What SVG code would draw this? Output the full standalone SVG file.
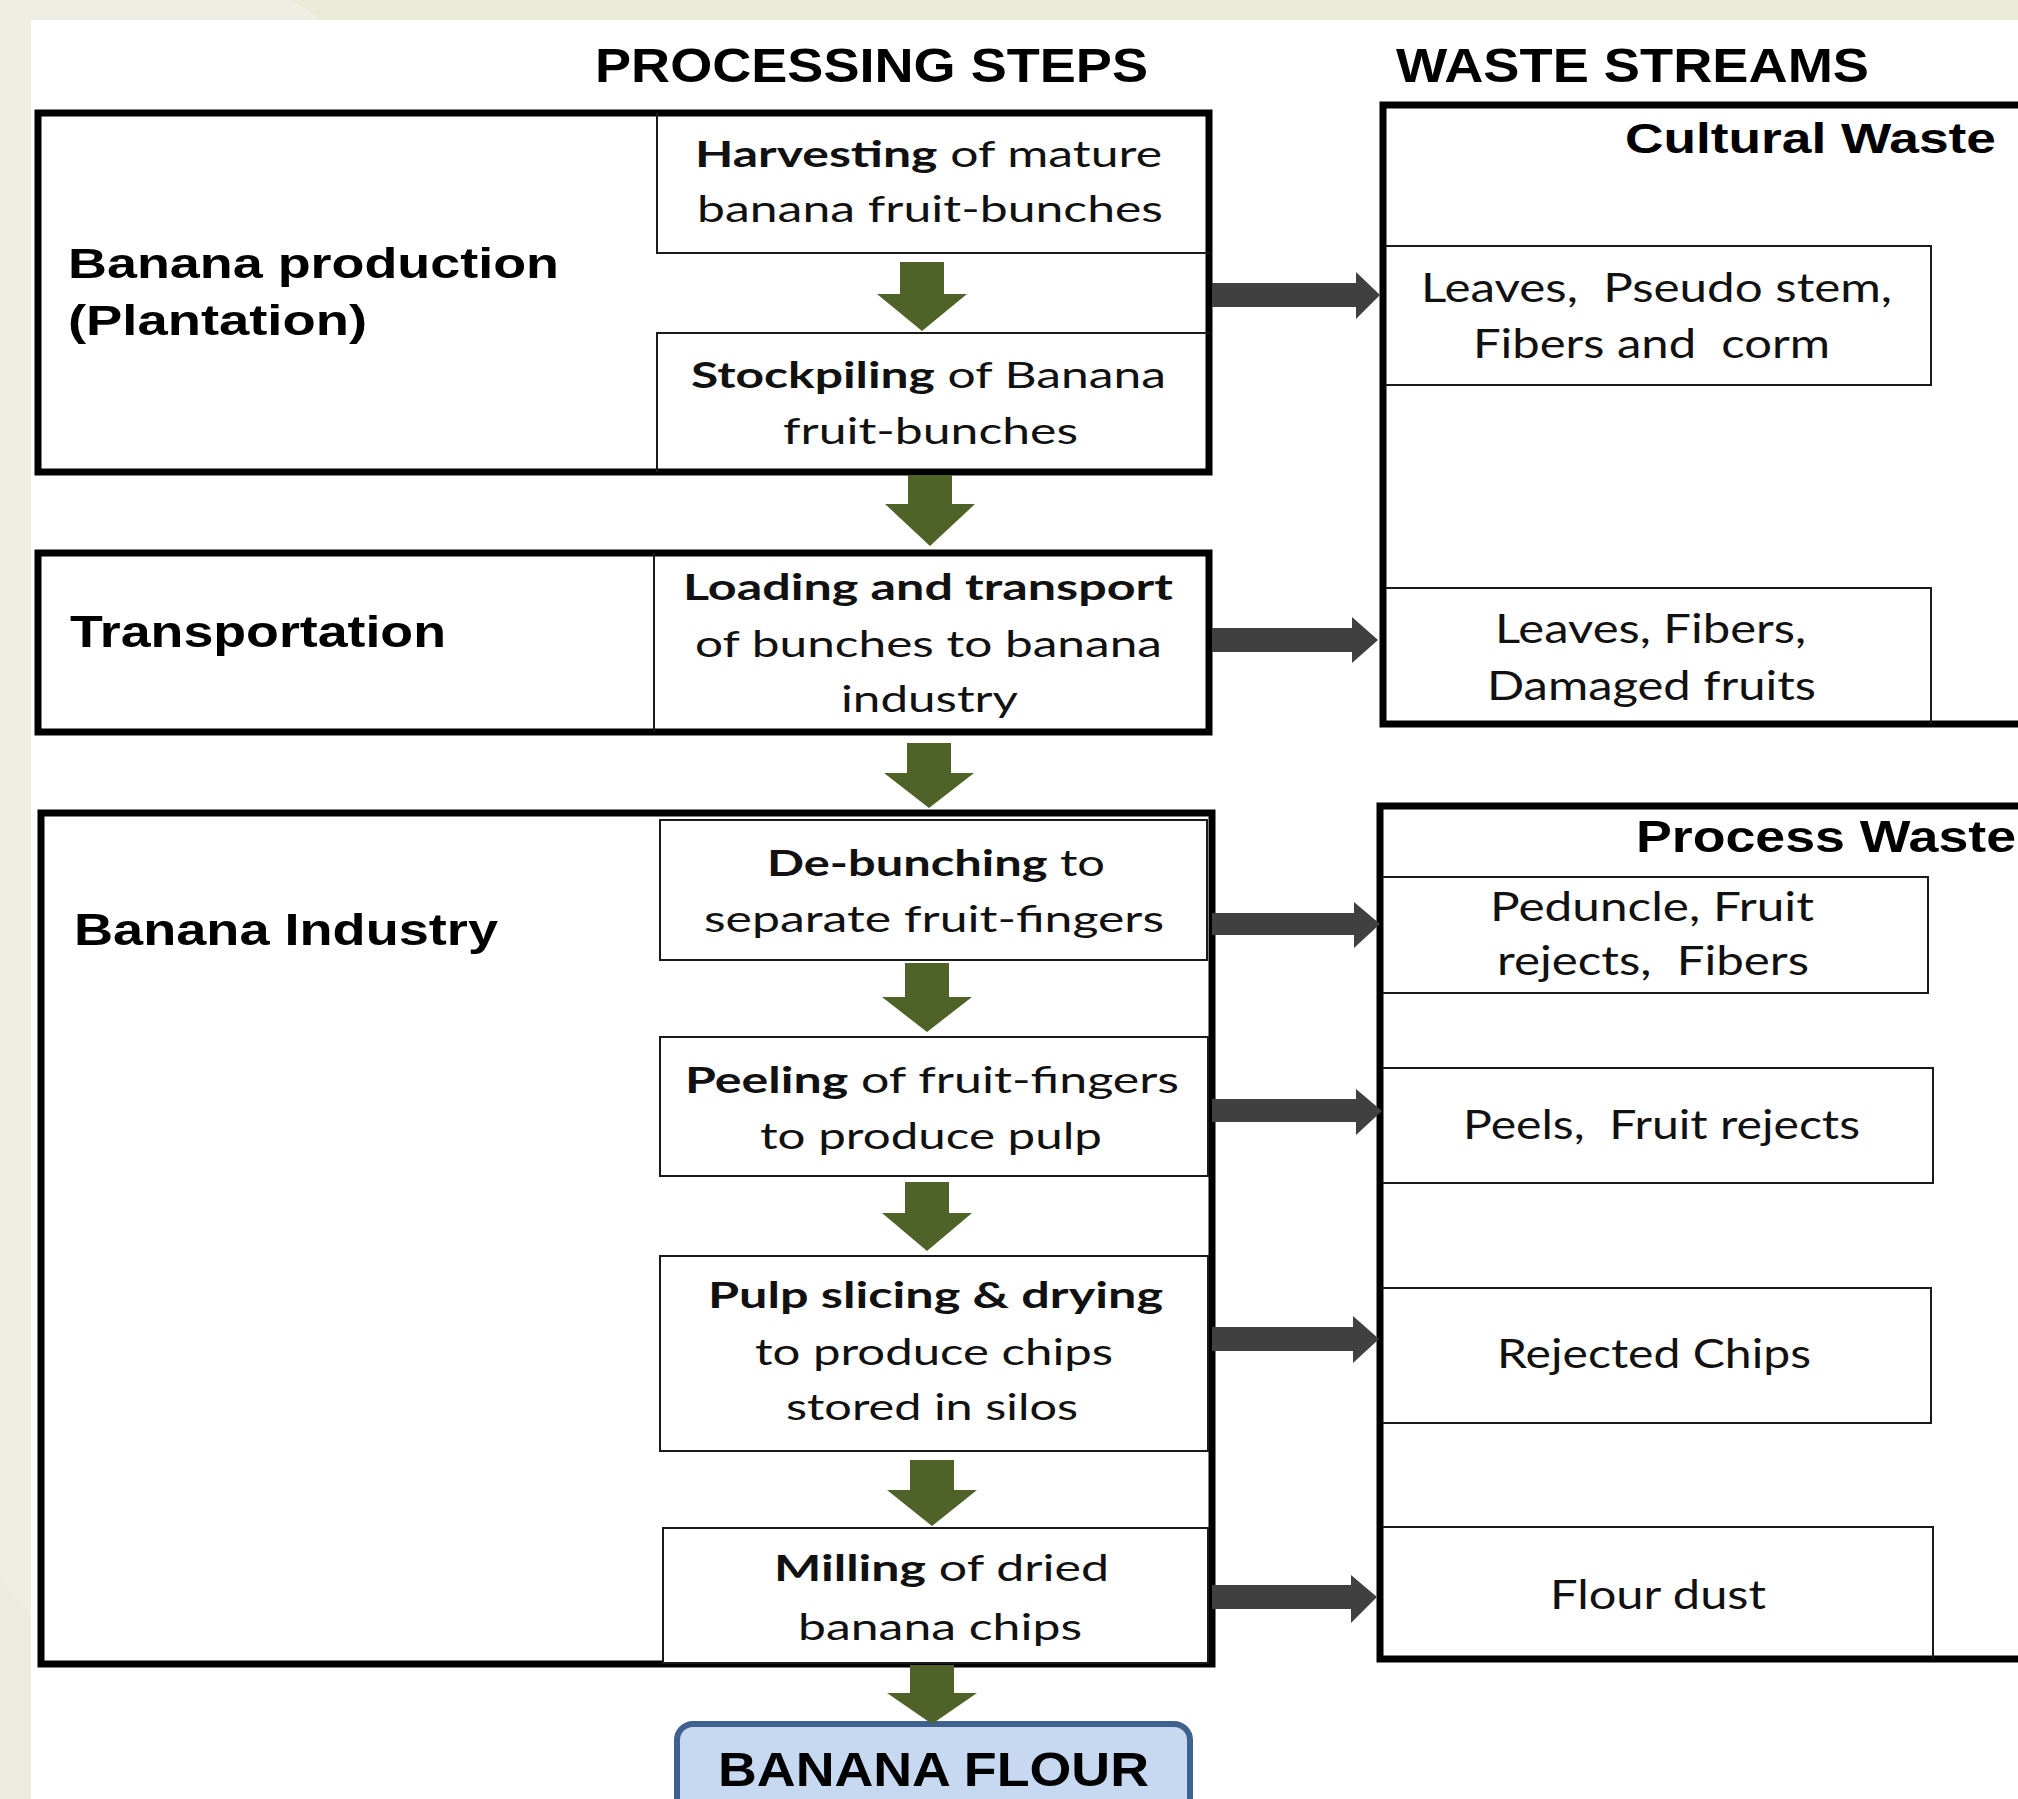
<svg xmlns="http://www.w3.org/2000/svg" width="2018" height="1799" viewBox="0 0 2018 1799">
  <style>
    .frame { fill: #ffffff; stroke: #000000; stroke-width: 7; }
    .cell { fill: #ffffff; stroke: #1a1a1a; stroke-width: 2; }
    .rule { fill: none; stroke: #1a1a1a; stroke-width: 2; }
    .head { font-family: "Liberation Sans", Arial, sans-serif; font-weight: 700; fill: #000; white-space: pre; }
    .body { font-family: Lato, "Open Sans", sans-serif; font-weight: 400; fill: #111; white-space: pre; }
    .b { font-weight: 700; }
    .step { font-size: 37px; }
    .waste { font-size: 40px; }
    .down { fill: #4f6228; }
    .side { fill: #404040; }
  </style>

  <!-- slide backdrop -->
  <rect x="0" y="0" width="2018" height="1799" fill="#eaebd6"/>
  <polygon points="0,0 292,0 322,20 31,20 31,1618 0,1575" fill="#eeefe2"/>
  <polygon points="0,1575 31,1618 31,1799 0,1799" fill="#ecebdf"/>
  <rect x="31" y="20" width="1987" height="1779" fill="#ffffff"/>

  <!-- column headings -->
  <text class="head" x="595" y="82" font-size="49" textLength="553" lengthAdjust="spacingAndGlyphs">PROCESSING STEPS</text>
  <text class="head" x="1396" y="82" font-size="49" textLength="473" lengthAdjust="spacingAndGlyphs">WASTE STREAMS</text>

  <!-- stage 1: plantation -->
  <g id="banana-production">
    <rect class="frame" x="38" y="113" width="1171" height="359"/>
    <text class="head" x="68" y="278" font-size="43" textLength="491" lengthAdjust="spacingAndGlyphs">Banana production</text>
    <text class="head" x="68" y="335" font-size="43" textLength="299" lengthAdjust="spacingAndGlyphs">(Plantation)</text>
  </g>
  <g id="harvesting">
    <path class="rule" d="M657,113 V253 H1209"/>
    <text class="body step" x="695" y="167" textLength="467" lengthAdjust="spacingAndGlyphs"><tspan class="b">Harvesting</tspan> of mature</text>
    <text class="body step" x="697" y="222" textLength="466" lengthAdjust="spacingAndGlyphs">banana fruit-bunches</text>
  </g>
  <g id="stockpiling">
    <path class="rule" d="M1209,333 H657 V472"/>
    <text class="body step" x="691" y="388" textLength="475" lengthAdjust="spacingAndGlyphs"><tspan class="b">Stockpiling</tspan> of Banana</text>
    <text class="body step" x="783" y="444" textLength="295" lengthAdjust="spacingAndGlyphs">fruit-bunches</text>
  </g>

  <!-- stage 2: transport -->
  <g id="transportation">
    <rect class="frame" x="38" y="553" width="1171" height="179"/>
    <text class="head" x="70" y="647" font-size="44" textLength="376" lengthAdjust="spacingAndGlyphs">Transportation</text>
  </g>
  <g id="loading">
    <path class="rule" d="M654,553 V732"/>
    <text class="body step" x="683" y="600" textLength="490" lengthAdjust="spacingAndGlyphs"><tspan class="b">Loading and transport</tspan></text>
    <text class="body step" x="695" y="657" textLength="467" lengthAdjust="spacingAndGlyphs">of bunches to banana</text>
    <text class="body step" x="841" y="712" textLength="177" lengthAdjust="spacingAndGlyphs">industry</text>
  </g>

  <!-- stage 3: factory -->
  <g id="banana-industry">
    <rect class="frame" x="41" y="813" width="1171" height="851"/>
    <text class="head" x="74" y="945" font-size="44" textLength="424" lengthAdjust="spacingAndGlyphs">Banana Industry</text>
  </g>
  <g id="de-bunching">
    <rect class="cell" x="660" y="820" width="547" height="140"/>
    <text class="body step" x="767" y="876" textLength="338" lengthAdjust="spacingAndGlyphs"><tspan class="b">De-bunching</tspan> to</text>
    <text class="body step" x="704" y="932" textLength="460" lengthAdjust="spacingAndGlyphs">separate fruit-fingers</text>
  </g>
  <g id="peeling">
    <rect class="cell" x="660" y="1037" width="548" height="139"/>
    <text class="body step" x="685" y="1093" textLength="494" lengthAdjust="spacingAndGlyphs"><tspan class="b">Peeling</tspan> of fruit-fingers</text>
    <text class="body step" x="760" y="1149" textLength="342" lengthAdjust="spacingAndGlyphs">to produce pulp</text>
  </g>
  <g id="slicing-drying">
    <rect class="cell" x="660" y="1256" width="548" height="195"/>
    <text class="body step" x="708" y="1308" textLength="455" lengthAdjust="spacingAndGlyphs"><tspan class="b">Pulp slicing &amp; drying</tspan></text>
    <text class="body step" x="755" y="1365" textLength="358" lengthAdjust="spacingAndGlyphs">to produce chips</text>
    <text class="body step" x="786" y="1420" textLength="292" lengthAdjust="spacingAndGlyphs">stored in silos</text>
  </g>
  <g id="milling">
    <rect class="cell" x="663" y="1528" width="545" height="135"/>
    <text class="body step" x="774" y="1581" textLength="335" lengthAdjust="spacingAndGlyphs"><tspan class="b">Milling</tspan> of dried</text>
    <text class="body step" x="798" y="1640" textLength="284" lengthAdjust="spacingAndGlyphs">banana chips</text>
  </g>

  <!-- final product -->
  <g id="banana-flour">
    <rect x="677" y="1724" width="513" height="110" rx="16" ry="16" fill="#c6d9f1" stroke="#3f6190" stroke-width="6"/>
    <text class="head" x="718" y="1786" font-size="48" textLength="431" lengthAdjust="spacingAndGlyphs">BANANA FLOUR</text>
  </g>

  <!-- waste column: field residues -->
  <g id="cultural-waste">
    <rect class="frame" x="1383" y="105" width="700" height="619"/>
    <text class="head" x="1625" y="153" font-size="43" textLength="371" lengthAdjust="spacingAndGlyphs">Cultural Waste</text>
  </g>
  <g id="plantation-residue">
    <path class="rule" d="M1386,246 H1931 V385 H1386"/>
    <text class="body waste" x="1421" y="302" textLength="471" lengthAdjust="spacingAndGlyphs">Leaves,  Pseudo stem,</text>
    <text class="body waste" x="1473" y="358" textLength="357" lengthAdjust="spacingAndGlyphs">Fibers and  corm</text>
  </g>
  <g id="transport-residue">
    <path class="rule" d="M1386,588 H1931 V724"/>
    <text class="body waste" x="1495" y="643" textLength="311" lengthAdjust="spacingAndGlyphs">Leaves, Fibers,</text>
    <text class="body waste" x="1487" y="700" textLength="329" lengthAdjust="spacingAndGlyphs">Damaged fruits</text>
  </g>

  <!-- waste column: factory residues -->
  <g id="process-waste">
    <rect class="frame" x="1380" y="806" width="700" height="853"/>
    <text class="head" x="1636" y="852" font-size="45" textLength="380" lengthAdjust="spacingAndGlyphs">Process Waste</text>
  </g>
  <g id="debunching-residue">
    <path class="rule" d="M1383,877 H1928 V993 H1383"/>
    <text class="body waste" x="1490" y="921" textLength="324" lengthAdjust="spacingAndGlyphs">Peduncle, Fruit</text>
    <text class="body waste" x="1497" y="975" textLength="312" lengthAdjust="spacingAndGlyphs">rejects,  Fibers</text>
  </g>
  <g id="peeling-residue">
    <path class="rule" d="M1383,1068 H1933 V1183 H1383"/>
    <text class="body waste" x="1463" y="1139" textLength="397" lengthAdjust="spacingAndGlyphs">Peels,  Fruit rejects</text>
  </g>
  <g id="drying-residue">
    <path class="rule" d="M1383,1288 H1931 V1423 H1383"/>
    <text class="body waste" x="1497" y="1368" textLength="314" lengthAdjust="spacingAndGlyphs">Rejected Chips</text>
  </g>
  <g id="milling-residue">
    <path class="rule" d="M1383,1527 H1933 V1659"/>
    <text class="body waste" x="1550" y="1609" textLength="216" lengthAdjust="spacingAndGlyphs">Flour dust</text>
  </g>

  <!-- connectors: green block arrows down the process, grey block arrows out to waste -->
  <g id="connectors">
    <path class="down" d="M900,262 H944 V294 H967 L922,331 L877,294 H900 Z"/>
    <path class="down" d="M908,475 H952 V504 H975 L930,546 L885,504 H908 Z"/>
    <path class="down" d="M907,743 H951 V773 H974 L929,808 L884,773 H907 Z"/>
    <path class="down" d="M905,963 H949 V997 H972 L927,1032 L882,997 H905 Z"/>
    <path class="down" d="M905,1182 H949 V1213 H972 L927,1251 L882,1213 H905 Z"/>
    <path class="down" d="M910,1460 H954 V1490 H977 L932,1526 L887,1490 H910 Z"/>
    <path class="down" d="M910,1665 H954 V1693 H977 L932,1724 L887,1693 H910 Z"/>

    <path class="side" d="M1212,283 H1356 V272 L1380,295 L1356,319 V307 H1212 Z"/>
    <path class="side" d="M1212,628 H1352 V617 L1378,640 L1352,663 V652 H1212 Z"/>
    <path class="side" d="M1212,913 H1354 V902 L1380,924 L1354,948 V935 H1212 Z"/>
    <path class="side" d="M1212,1099 H1356 V1089 L1382,1111 L1356,1135 V1122 H1212 Z"/>
    <path class="side" d="M1212,1327 H1353 V1316 L1379,1339 L1353,1363 V1351 H1212 Z"/>
    <path class="side" d="M1212,1585 H1351 V1575 L1377,1597 L1351,1623 V1609 H1212 Z"/>
  </g>
</svg>
